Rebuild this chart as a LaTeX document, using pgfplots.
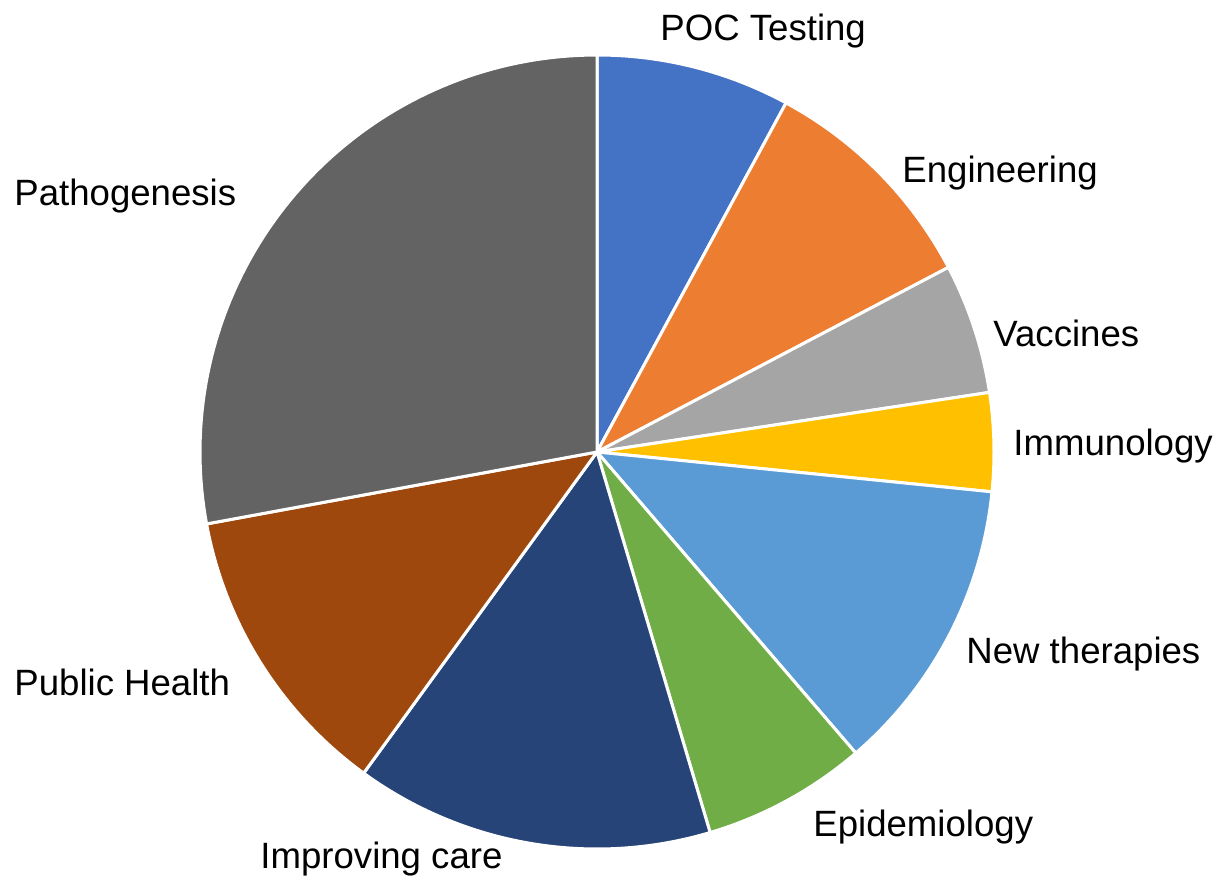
\documentclass[border=0pt]{standalone}
\usepackage{pgfplots}
\pgfplotsset{compat=1.18}
\usepackage{fontspec}
\setmainfont{Liberation Sans}
\definecolor{cPOC}{HTML}{4472C4}
\definecolor{cEng}{HTML}{ED7D31}
\definecolor{cVac}{HTML}{A5A5A5}
\definecolor{cImm}{HTML}{FFC000}
\definecolor{cNT}{HTML}{5B9BD5}
\definecolor{cEpi}{HTML}{70AD47}
\definecolor{cIC}{HTML}{264478}
\definecolor{cPH}{HTML}{9E480E}
\definecolor{cPat}{HTML}{636363}
% shares in percent, clockwise from the top
\def\vPOC{7.9}\def\vEng{9.4}\def\vVac{5.3}\def\vImm{4.0}\def\vNT{12.1}
\def\vEpi{6.7}\def\vIC{14.6}\def\vPH{12.1}\def\vPat{27.9}
\pgfmathsetmacro\aA{90}
\pgfmathsetmacro\aB{\aA-3.6*\vPOC}
\pgfmathsetmacro\aC{\aB-3.6*\vEng}
\pgfmathsetmacro\aD{\aC-3.6*\vVac}
\pgfmathsetmacro\aE{\aD-3.6*\vImm}
\pgfmathsetmacro\aF{\aE-3.6*\vNT}
\pgfmathsetmacro\aG{\aF-3.6*\vEpi}
\pgfmathsetmacro\aH{\aG-3.6*\vIC}
\pgfmathsetmacro\aI{\aH-3.6*\vPH}
\pgfmathsetmacro\aJ{\aI-3.6*\vPat}
\newcommand\slice[3]{%
  \addplot[fill=#3, draw=white, line width=1.5pt, domain=#2:#1, samples=80, variable=\t]
    ({597+397*cos(\t)},{427+397*sin(\t)}) -- (axis cs:597,427) -- cycle;}
\begin{document}
\begin{tikzpicture}
\begin{axis}[
  width=610.5pt, height=439.5pt, scale only axis,
  xmin=0, xmax=1221, ymin=0, ymax=879,
  hide axis, clip=false,
]
\path (rel axis cs:0,0) rectangle (rel axis cs:1,1);
\slice{\aA}{\aB}{cPOC}
\slice{\aB}{\aC}{cEng}
\slice{\aC}{\aD}{cVac}
\slice{\aD}{\aE}{cImm}
\slice{\aE}{\aF}{cNT}
\slice{\aF}{\aG}{cEpi}
\slice{\aG}{\aH}{cIC}
\slice{\aH}{\aI}{cPH}
\slice{\aI}{\aJ}{cPat}
\begin{scope}[every node/.style={anchor=base west, inner sep=0pt, font=\fontsize{18.3}{20}\selectfont}]
\node at (axis cs:660,838) {POC Testing};
\node at (axis cs:902,696) {Engineering};
\node at (axis cs:993,532) {Vaccines};
\node at (axis cs:1013,423) {Immunology};
\node at (axis cs:966,216) {New therapies};
\node at (axis cs:813,43) {Epidemiology};
\node at (axis cs:260,11) {Improving care};
\node at (axis cs:14,184) {Public Health};
\node at (axis cs:14,673) {Pathogenesis};
\end{scope}
\end{axis}
\end{tikzpicture}
\end{document}
